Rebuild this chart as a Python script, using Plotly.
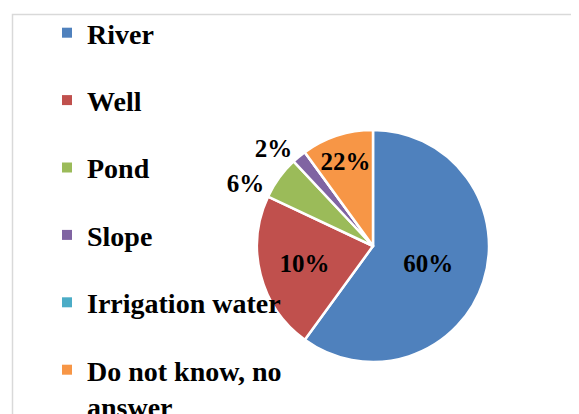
import plotly.graph_objects as go

categories = ["River", "Well", "Pond", "Slope", "Irrigation water", "Do not know, no<br>answer"]
slice_values = [60, 22, 6, 2, 0, 10]
slice_texts = ["60%", "10%", "6%", "2%", "", "22%"]
text_positions = ["inside", "inside", "outside", "outside", "none", "inside"]
# which pie layer draws each label (separate layer keeps neighbouring outside labels apart)
label_layer = [0, 0, 1, 0, 0, 0]
colors = ["#4F81BD", "#C0504D", "#9BBB59", "#8064A2", "#4BACC6", "#F79646"]

W, H = 579, 414
LEG_FONT = dict(family="Liberation Serif", size=28, color="black", weight="bold")
LBL_FONT = dict(family="Liberation Serif", size=25, color="black", weight="bold")
DOMAIN = dict(x=[249 / W, 481 / W], y=[1 - 354 / H, 1 - 122 / H])

fig = go.Figure()
for layer in (0, 1):
    texts = []
    poss = []
    for t, p, l in zip(slice_texts, text_positions, label_layer):
        if l == layer and p != "none":
            texts.append((" <br>" + t) if layer == 1 else t)
            poss.append(p)
        else:
            texts.append("")
            poss.append("none")
    fig.add_trace(go.Pie(
        labels=categories,
        values=slice_values,
        text=texts,
        textinfo="text",
        textposition=poss,
        insidetextorientation="horizontal",
        sort=False,
        direction="clockwise",
        rotation=0,
        marker=dict(colors=colors if layer == 0 else ["rgba(0,0,0,0)"] * len(colors),
                    line=dict(color="white", width=2.5 if layer == 0 else 0)),
        textfont=LBL_FONT,
        showlegend=False,
        hoverinfo="skip" if layer == 1 else None,
        domain=DOMAIN,
    ))

for i, (name, col) in enumerate(zip(categories, colors)):
    fig.add_trace(go.Scatter(
        x=[None], y=[None], mode="markers", name=name,
        marker=dict(symbol="square", size=10, color=col),
        legendgroup=f"g{i}", showlegend=True,
    ))

fig.update_layout(
    width=W, height=H,
    margin=dict(l=0, r=0, t=0, b=0),
    paper_bgcolor="white", plot_bgcolor="white",
    xaxis=dict(visible=False), yaxis=dict(visible=False),
    uniformtext=dict(minsize=25, mode="show"),
    legend=dict(
        x=39 / W, xanchor="left", y=1 - 7 / H, yanchor="top",
        font=LEG_FONT, tracegroupgap=28, valign="top",
        bgcolor="rgba(0,0,0,0)", maxheight=2000,
        traceorder="grouped",
    ),
    shapes=[dict(type="rect", xref="paper", yref="paper",
                 x0=4.5 / W, x1=1.2, y0=-0.2, y1=1 - 6.5 / H,
                 line=dict(color="#D9D9D9", width=1.5), layer="below")],
)

fig.write_html("out.html")
